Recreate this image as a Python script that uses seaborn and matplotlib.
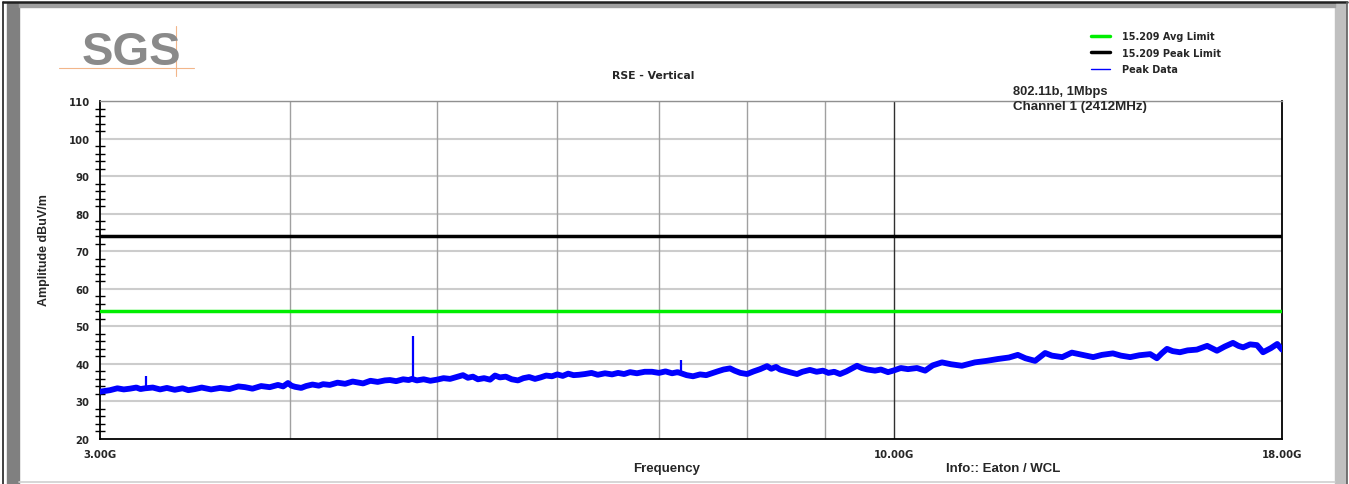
import matplotlib
matplotlib.use("Agg")
import matplotlib.pyplot as plt
from matplotlib.patches import Rectangle
from matplotlib.lines import Line2D
import pandas as pd
import seaborn as sns

# =========================
# DATOS
# =========================

freq_ghz = [3.000, 3.046, 3.080, 3.110, 3.139, 3.170, 3.190, 3.212, 3.250, 3.286,
            3.320, 3.360, 3.400, 3.430, 3.465, 3.500, 3.550, 3.599, 3.650, 3.700,
            3.738, 3.780, 3.830, 3.880, 3.929, 3.960, 3.989, 4.010, 4.032, 4.070,
            4.100, 4.140, 4.180, 4.207, 4.250, 4.300, 4.350, 4.400, 4.429, 4.470,
            4.520, 4.570, 4.620, 4.656, 4.700, 4.750, 4.790, 4.814, 4.850, 4.900,
            4.950, 5.000, 5.050, 5.100, 5.150, 5.201, 5.240, 5.280, 5.320, 5.370,
            5.419, 5.460, 5.500, 5.550, 5.600, 5.653, 5.700, 5.750, 5.801, 5.850,
            5.900, 5.952, 6.000, 6.050, 6.100, 6.150, 6.200, 6.258, 6.320, 6.380,
            6.450, 6.520, 6.579, 6.640, 6.700, 6.770, 6.850, 6.927, 7.000, 7.070,
            7.140, 7.200, 7.227, 7.300, 7.371, 7.450, 7.520, 7.597, 7.650, 7.720,
            7.796, 7.850, 7.920, 8.000, 8.080, 8.160, 8.246, 8.300, 8.360, 8.410,
            8.480, 8.550, 8.630, 8.700, 8.800, 8.890, 8.977, 9.050, 9.130, 9.211,
            9.300, 9.380, 9.451, 9.520, 9.600, 9.713, 9.800, 9.906, 10.00, 10.10,
            10.21, 10.35, 10.48, 10.60, 10.75, 10.90, 11.08, 11.20, 11.30, 11.50,
            11.70, 11.90, 12.06, 12.20, 12.38, 12.57, 12.70, 12.90, 13.09, 13.30,
            13.52, 13.70, 13.93, 14.10, 14.30, 14.50, 14.74, 14.89, 15.00, 15.12,
            15.25, 15.42, 15.60, 15.82, 16.07, 16.20, 16.31, 16.50, 16.71, 16.85,
            16.97, 17.15, 17.33, 17.49, 17.70, 17.87, 18.00]
peak_dbuv = [32.6, 33.0, 33.5, 33.2, 33.4, 33.7, 33.3, 33.5, 33.7, 33.2,
             33.6, 33.1, 33.5, 33.0, 33.3, 33.7, 33.2, 33.6, 33.3, 34.0,
             33.8, 33.4, 34.1, 33.8, 34.4, 34.0, 34.9, 34.2, 33.9, 33.6,
             34.1, 34.5, 34.2, 34.6, 34.4, 35.0, 34.7, 35.3, 35.1, 34.8,
             35.5, 35.2, 35.6, 35.7, 35.4, 35.9, 35.7, 36.0, 35.6, 35.9,
             35.5, 35.8, 36.2, 36.0, 36.5, 37.0, 36.3, 36.6, 35.9, 36.2,
             35.8, 36.9, 36.4, 36.6, 35.9, 35.6, 36.2, 36.5, 36.0, 36.4,
             36.9, 36.7, 37.2, 36.8, 37.4, 37.0, 37.1, 37.3, 37.6, 37.1,
             37.5, 37.2, 37.6, 37.3, 37.8, 37.5, 37.9, 37.9, 37.6, 38.0,
             37.5, 37.8, 37.6, 37.0, 36.7, 37.2, 37.0, 37.6, 38.0, 38.5,
             38.8, 38.2, 37.6, 37.3, 38.0, 38.6, 39.4, 38.7, 39.2, 38.5,
             38.1, 37.7, 37.3, 37.9, 38.4, 37.9, 38.2, 37.6, 37.9, 37.3,
             38.0, 38.8, 39.5, 38.9, 38.5, 38.2, 38.5, 37.8, 38.3, 38.9,
             38.6, 38.9, 38.2, 39.6, 40.4, 39.9, 39.5, 40.0, 40.4, 40.8,
             41.3, 41.7, 42.4, 41.5, 40.8, 42.9, 42.2, 41.8, 43.0, 42.4,
             41.8, 42.4, 42.8, 42.2, 41.8, 42.3, 42.6, 41.5, 42.8, 44.0,
             43.4, 43.1, 43.6, 43.8, 44.8, 44.1, 43.5, 44.6, 45.6, 44.8,
             44.4, 45.2, 45.0, 43.1, 44.2, 45.3, 43.8]

# picos estrechos
spike_ghz = [3.216, 4.818, 7.233]
spike_base = [33.5, 36.0, 37.6]
spike_top = [36.7, 47.5, 41.0]

limit_ghz = [3.0, 18.0]
avg_limit = [54, 54]
peak_limit = [74, 74]

df = pd.DataFrame({"Frequency": freq_ghz, "Amplitude": peak_dbuv})

W, H = 1349, 485
WIDE = ["DejaVu Sans"]

sns.set_style("white")
plt.rcParams["font.family"] = ["Liberation Sans", "DejaVu Sans"]

fig = plt.figure(figsize=(W / 100, H / 100), dpi=100)
ax = fig.add_axes([100 / W, 1 - 440 / H, 1182 / W, 338 / H])


def fx(px):
    return px / W


def fy(py):
    return 1 - py / H


# =========================
# MARCO
# =========================

fig.patches.append(Rectangle((fx(7), 0), fx(12), fy(4), transform=fig.transFigure,
                             color="#808080", zorder=0))
fig.patches.append(Rectangle((fx(1335), 0), fx(11), fy(5), transform=fig.transFigure,
                             color="#c0c0c0", zorder=0))
fig.patches.append(Rectangle((fx(19), fy(8)), fx(1316), fy(4) - fy(8), transform=fig.transFigure,
                             color="#a0a0a0", zorder=0))
fig.lines.append(Line2D([fx(3), fx(1347)], [fy(3), fy(3)], transform=fig.transFigure,
                        color="#202020", lw=1.8))
fig.lines.append(Line2D([fx(3), fx(3)], [0, fy(3)], transform=fig.transFigure,
                        color="#202020", lw=1.2))
fig.lines.append(Line2D([fx(1347), fx(1347)], [0, fy(3)], transform=fig.transFigure,
                        color="#606060", lw=1.2))
fig.lines.append(Line2D([fx(19), fx(1335)], [fy(483), fy(483)], transform=fig.transFigure,
                        color="#d0d0d0", lw=1.2))

# logo SGS
fig.text(fx(131), fy(53), "SGS", fontsize=34, fontweight="bold", color="#8a8a8a",
         ha="center", va="center", family=["Liberation Sans Narrow", "Liberation Sans"])
fig.lines.append(Line2D([fx(59), fx(194)], [fy(69), fy(69)], transform=fig.transFigure,
                        color="#f2b68a", lw=0.8))
fig.lines.append(Line2D([fx(176), fx(176)], [fy(27), fy(77)], transform=fig.transFigure,
                        color="#f2b68a", lw=0.8))

# =========================
# GRAFICO
# =========================

ax.set_xscale("log")

for y in range(30, 111, 10):
    ax.axhline(y, color="#cccccc", lw=1.5, zorder=1)
for x in [4, 5, 6, 7, 8, 9]:
    ax.axvline(x, color="#a0a0a0", lw=1.0, zorder=1)
ax.axvline(10, color="#303030", lw=1.0, zorder=1)

sns.lineplot(x=limit_ghz, y=peak_limit, color="black", lw=2.5, ax=ax, zorder=3,
             label="15.209 Peak Limit")
sns.lineplot(x=limit_ghz, y=avg_limit, color="#00ee00", lw=2.5, ax=ax, zorder=3,
             label="15.209 Avg Limit")
sns.lineplot(data=df, x="Frequency", y="Amplitude", color="#0000ff", lw=4.2, ax=ax,
             zorder=4, sort=False, label="Peak Data")
ax.vlines(spike_ghz, spike_base, spike_top, color="#0000ff", lw=1.6, zorder=4)
ax.get_legend().remove()

ax.set_xlim(3, 18)
ax.set_ylim(20, 110)

ax.set_xticks([3, 10, 18])
ax.set_xticklabels(["3.00G", "10.00G", "18.00G"])
ax.set_xticks([4, 5, 6, 7, 8, 9], minor=True)
ax.xaxis.set_minor_formatter(plt.NullFormatter())
ax.tick_params(axis="x", which="both", direction="out", length=4, width=1,
               color="black", pad=2)
ax.tick_params(axis="x", which="major", length=5)

ax.set_yticks(range(20, 111, 10))
ax.set_yticks(range(20, 111, 2), minor=True)
ax.tick_params(axis="y", which="major", direction="inout", length=11, width=1.2,
               color="black", pad=2)
ax.tick_params(axis="y", which="minor", direction="inout", length=7, width=1,
               color="black", left=True)

for lab in ax.get_xticklabels() + ax.get_yticklabels():
    lab.set_fontweight("bold")
    lab.set_family(WIDE)
    lab.set_fontsize(7.3)

for s in ["left", "bottom", "right"]:
    ax.spines[s].set_color("black")
    ax.spines[s].set_linewidth(1.3)
ax.spines["top"].set_color("#909090")
ax.spines["top"].set_linewidth(1.0)

ax.set_xlabel("")
ax.set_ylabel("")

fig.text(fx(44), fy(250), "Amplitude dBuV/m", fontsize=9, fontweight="bold",
         ha="center", va="center", rotation=90)
fig.text(fx(667), fy(469), "Frequency", fontsize=9.5, fontweight="bold",
         ha="center", va="center")
fig.text(fx(1003), fy(469), "Info:: Eaton / WCL", fontsize=9.5, fontweight="bold",
         ha="center", va="center")
fig.text(fx(653), fy(76), "RSE - Vertical", fontsize=7.8, fontweight="bold",
         ha="center", va="center", family=WIDE)
fig.text(fx(1013), fy(92), "802.11b, 1Mbps", fontsize=9.3, fontweight="bold",
         ha="left", va="center")
fig.text(fx(1013), fy(107), "Channel 1 (2412MHz)", fontsize=9.6, fontweight="bold",
         ha="left", va="center")

# leyenda
handles = [Line2D([], [], color="#00ee00", lw=2.5),
           Line2D([], [], color="black", lw=2.5),
           Line2D([], [], color="#0000ff", lw=1.0)]
leg = fig.legend(handles, ["15.209 Avg Limit", "15.209 Peak Limit", "Peak Data"],
                 loc="upper left", bbox_to_anchor=(fx(1091), fy(32)), frameon=False,
                 handlelength=2.0, handletextpad=1.2, labelspacing=0.68,
                 prop={"size": 7, "weight": "bold", "family": WIDE},
                 borderpad=0, borderaxespad=0)

fig.savefig("out.png", dpi=100)
